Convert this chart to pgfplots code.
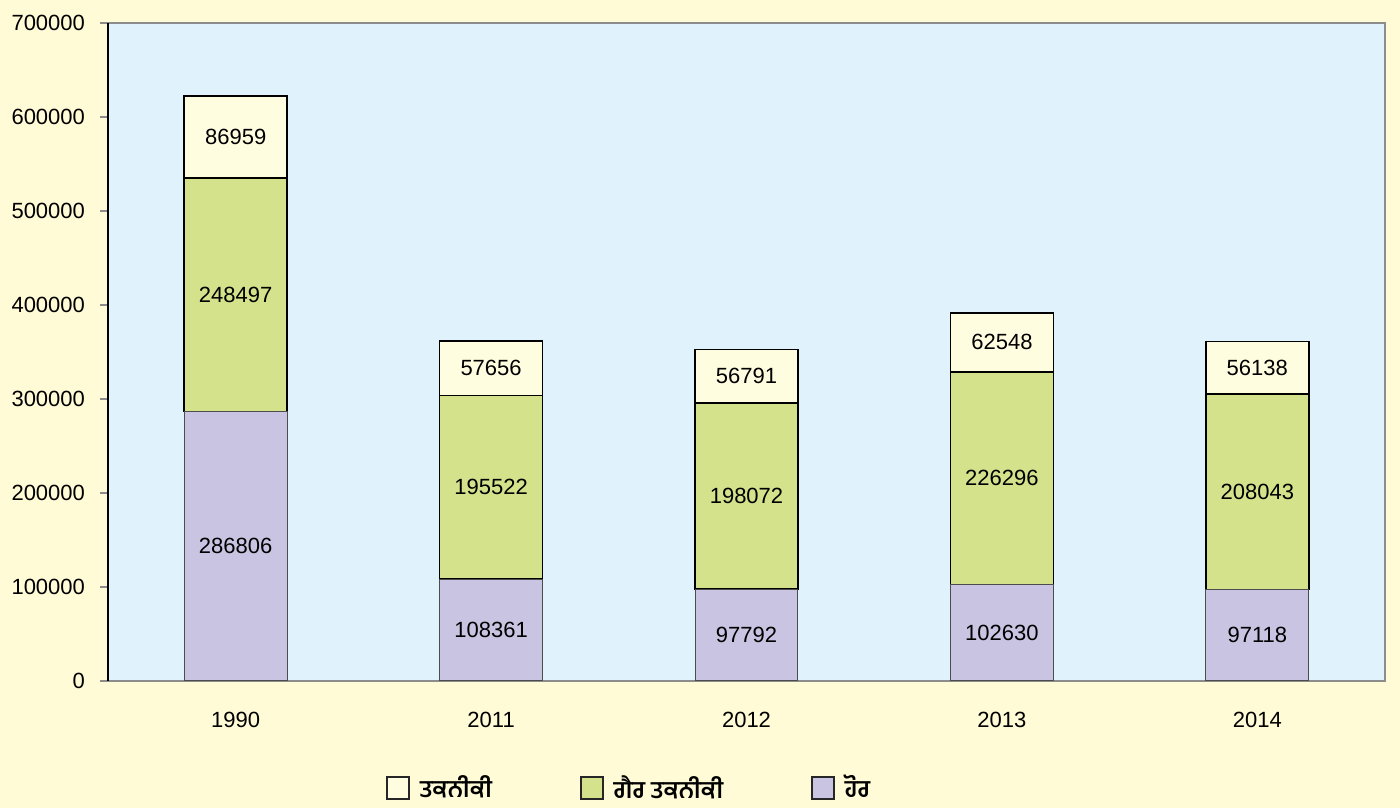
\documentclass[border=0pt]{standalone}
\usepackage{pgfplots}
\pgfplotsset{compat=1.18}
\usepackage{fontspec}
\setmainfont{Liberation Sans}
\newfontfamily\gurfont[Script=Gurmukhi]{Hind Jalandhar}
\usetikzlibrary{backgrounds,calc}

\definecolor{bgyellow}{HTML}{FFFBD6}
\definecolor{plotblue}{HTML}{E0F2FC}
\definecolor{topfill}{HTML}{FFFDE0}
\definecolor{midgreen}{HTML}{D3E28B}
\definecolor{lowpurple}{HTML}{C8C4E1}
\definecolor{framegray}{HTML}{8C8C8C}

% rows: 1990, 2011, 2012, 2013, 2014
\pgfplotstableread{
x hor gair tak
0 286806 248497 86959
1 108361 195522 57656
2 97792  198072 56791
3 102630 226296 62548
4 97118  208043 56138
}\datatable

\begin{document}
\begin{tikzpicture}
\begin{axis}[
    scale only axis,
    width=638.5pt, height=329pt,
    ybar stacked,
    bar width=0.403,
    xmin=-0.5, xmax=4.5,
    ymin=0, ymax=700000,
    xtick=data,
    xticklabels={1990,2011,2012,2013,2014},
    ytick={0,100000,200000,300000,400000,500000,600000,700000},
    yticklabels={0,100000,200000,300000,400000,500000,600000,700000},
    scaled y ticks=false,
    ytick pos=left,
    tick label style={font=\fontsize{11}{13}\selectfont},
    yticklabel style={xshift=-4pt},
    xticklabel style={yshift=-8pt},
    x tick style={draw=none},
    y tick style={framegray, line width=0.6pt},
    tick align=outside,
    major tick length=4pt,
    axis line style={framegray, line width=1pt},
    axis background/.style={fill=plotblue},
    point meta=explicit symbolic,
    nodes near coords={\pgfplotspointmeta},
    every node near coord/.append style={
        anchor=center, font=\fontsize{11}{13}\selectfont, text=black},
    reverse legend,
    legend columns=3,
    legend style={at={(0.409,-0.163)}, anchor=center, draw=none, fill=none,
        inner ysep=0pt,
        font=\gurfont\bfseries\fontsize{12}{14}\selectfont,
        /tikz/every odd column/.append style={column sep=3pt},
        /tikz/every even column/.append style={column sep=42pt}},
    legend image code/.code={\draw[#1,draw=black!85,line width=0.8pt] (0pt,-5.5pt) rectangle (11pt,5.5pt);},
    extra description/.code={\draw[black,line width=1pt] (axis description cs:0,0) -- (axis description cs:0,1);},
]
\addplot[fill=lowpurple, draw=black!70, line width=0.5pt] table[x=x, y=hor, meta=hor] {\datatable};
\addplot[fill=midgreen, draw=black, line width=0.8pt] table[x=x, y=gair, meta=gair] {\datatable};
\addplot[fill=topfill, draw=black, line width=0.8pt] table[x=x, y=tak, meta=tak] {\datatable};
\legend{ਹੋਰ, ਗੈਰ ਤਕਨੀਕੀ, ਤਕਨੀਕੀ}
\end{axis}
\begin{pgfonlayer}{background}
\fill[bgyellow] ($(current axis.south west)+(-54pt,-63.5pt)$) rectangle ($(current axis.north east)+(7.5pt,11.5pt)$);
\end{pgfonlayer}
\pgfresetboundingbox
\path[use as bounding box] ($(current axis.south west)+(-54pt,-63.5pt)$) rectangle ($(current axis.north east)+(7.5pt,11.5pt)$);
\end{tikzpicture}
\end{document}
